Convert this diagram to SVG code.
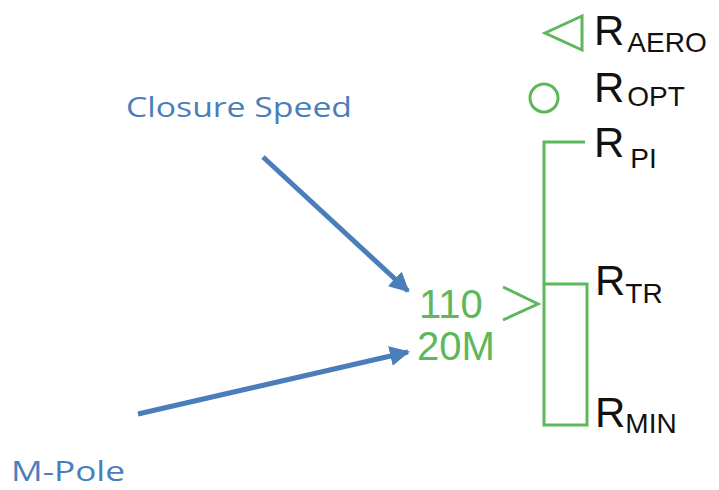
<svg xmlns="http://www.w3.org/2000/svg" width="719" height="490" viewBox="0 0 719 490">
<style>
.g{fill:none;stroke:#5cb85a;stroke-width:3}
.r{font-family:"Liberation Sans",Arial,sans-serif;fill:#111}
.big{font-size:42px}
.sub{font-size:28px}
.gt{font-family:"Liberation Sans",Arial,sans-serif;font-size:40px;fill:#5cb85a}
.lbl{font-family:"Open Sans","Noto Sans",sans-serif;font-size:28px;fill:#4a7ebb}
.arr{stroke:#4a7ebb;stroke-width:5;fill:none;marker-end:url(#ah)}
</style>
<defs>
<marker id="ah" viewBox="0 0 10 10" refX="9" refY="5" markerWidth="4" markerHeight="4" orient="auto" markerUnits="strokeWidth">
<path d="M0,0 L10,5 L0,10 z" fill="#4a7ebb"/>
</marker>
</defs>
<rect width="719" height="490" fill="#fff"/>
<g id="aero">
<polygon class="g" points="545,33 582,16 582,50"/>
<text class="r" x="594" y="45"><tspan class="big">R</tspan><tspan class="sub" dy="7" dx="3">AERO</tspan></text>
</g>
<g id="opt">
<circle class="g" cx="544" cy="98" r="14"/>
<text class="r" x="594" y="102"><tspan class="big">R</tspan><tspan class="sub" dy="4" dx="3">OPT</tspan></text>
</g>
<g id="pi">
<polyline class="g" points="585,142 544,142 544,284"/>
<text class="r" x="594" y="157"><tspan class="big">R</tspan><tspan class="sub" dy="11" dx="6">PI</tspan></text>
</g>
<g id="tr">
<rect class="g" x="544" y="284" width="43" height="141"/>
<text class="r" x="595" y="295"><tspan class="big">R</tspan><tspan class="sub" dy="8" dx="0">TR</tspan></text>
</g>
<g id="min">
<text class="r" x="595" y="427"><tspan class="big">R</tspan><tspan class="sub" dy="6" dx="0">MIN</tspan></text>
</g>
<g id="speed">
<text class="gt" x="419" y="318">110</text>
<polyline class="g" points="503,287 538,304 503,320"/>
<text class="gt" x="417" y="360">20M</text>
</g>
<g id="closure">
<text class="lbl" x="126" y="117" textLength="226" lengthAdjust="spacingAndGlyphs">Closure Speed</text>
</g>
<g id="mpole">
<text class="lbl" x="11" y="481" textLength="114" lengthAdjust="spacingAndGlyphs">M-Pole</text>
</g>
<g id="connectors">
<line class="arr" x1="263" y1="157" x2="408" y2="291"/>
<line class="arr" x1="138" y1="414" x2="408" y2="352"/>
</g>
</svg>
